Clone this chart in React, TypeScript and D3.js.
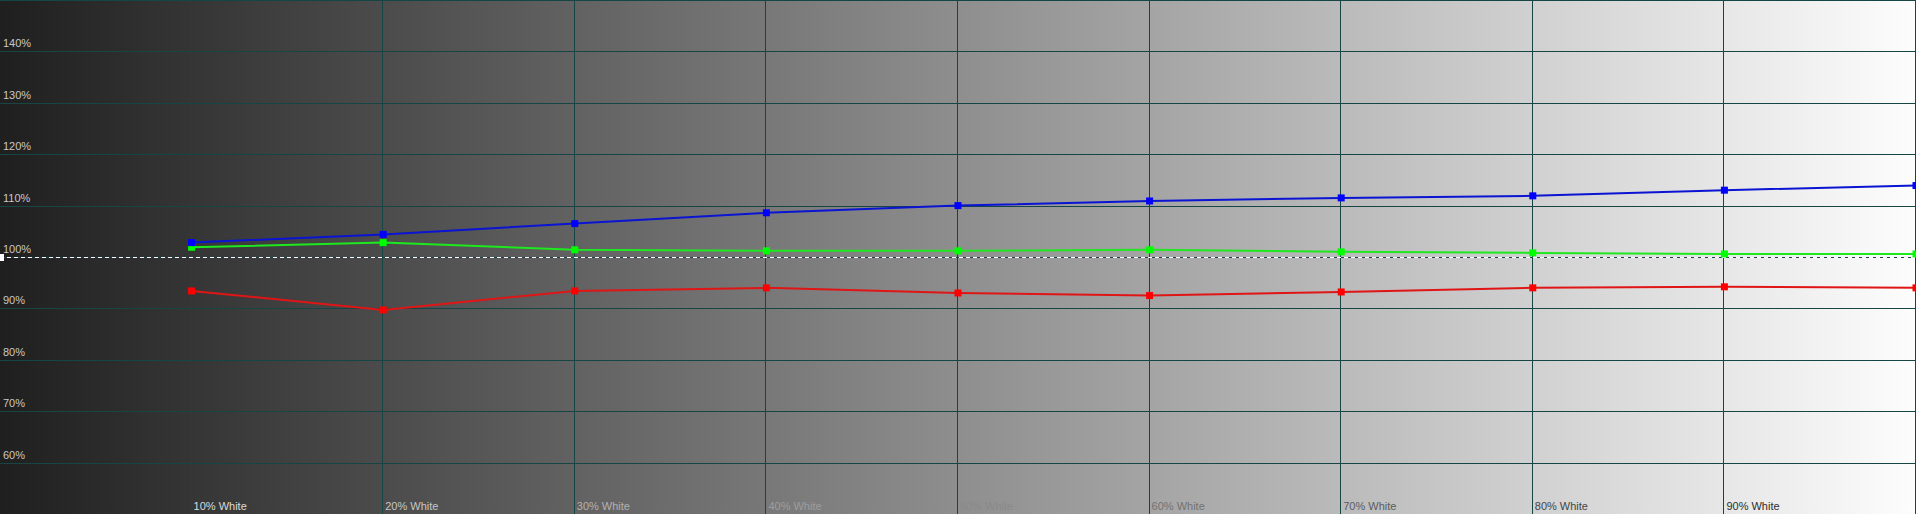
import React from "react";
import * as d3 from "d3";

const categories = ["10% White", "20% White", "30% White", "40% White", "50% White", "60% White", "70% White", "80% White", "90% White", "100% White"];
const levels = [10, 20, 30, 40, 50, 60, 70, 80, 90, 100];
const redValues = [93.4, 89.7, 93.4, 94.0, 93.0, 92.5, 93.2, 94.0, 94.2, 94.0];
const greenValues = [101.9, 102.8, 101.4, 101.2, 101.2, 101.4, 101.0, 100.8, 100.6, 100.6];
const blueValues = [102.8, 104.4, 106.5, 108.6, 110.0, 110.9, 111.5, 111.9, 113.0, 113.9];
const yTicks = [60, 70, 80, 90, 100, 110, 120, 130, 140];

const W = 1916;
const H = 514;

export default function App() {
  const x = d3.scaleLinear().domain([0, 100]).range([0, W]);
  const y = d3.scaleLinear().domain([50, 150]).range([H, 0]);
  const gridX = d3.range(10, 101, 10);
  const gridY = d3.range(50, 151, 10);
  const labelColor = d3.scaleLinear<string>().domain([10, 50, 90]).range(["#dadada", "#8a8a8a", "#2e2e2e"]);

  const series = [
    { name: "Red", values: redValues, line: "#e01515", mark: "#ff0000" },
    { name: "Green", values: greenValues, line: "#1ee81e", mark: "#00ff00" },
    { name: "Blue", values: blueValues, line: "#0a14d2", mark: "#0000ff" },
  ];
  const line = d3.line<number>().x((_, i) => x(levels[i])).y((v) => y(v));
  const ms = 7;

  return (
    <svg width={W} height={H} style={{ position: "fixed", left: 0, top: 0, display: "block" }} fontFamily="Liberation Sans, Arial, sans-serif">
      <defs>
        <linearGradient id="bg" x1="0" x2="1" y1="0" y2="0">
          <stop offset="0" stopColor="#1f1f1f" />
          <stop offset="1" stopColor="#fdfdfd" />
        </linearGradient>
      </defs>
      <rect x={0} y={0} width={W} height={H} fill="url(#bg)" />
      {gridY.map((v) => (
        <line key={"gy" + v} x1={0} x2={W} y1={Math.round(y(v)) + 0.5} y2={Math.round(y(v)) + 0.5} stroke="#174545" strokeWidth={1} />
      ))}
      {gridX.map((v) => (
        <line key={"gx" + v} x1={Math.round(x(v)) - 0.5} x2={Math.round(x(v)) - 0.5} y1={0} y2={H} stroke="#174545" strokeWidth={1} />
      ))}
      <line x1={0} x2={W} y1={Math.round(y(100)) + 0.5} y2={Math.round(y(100)) + 0.5} stroke="#ffffff" strokeWidth={1} strokeDasharray="4,3" />
      <rect x={0} y={y(100) - 3} width={4} height={7} fill="#ffffff" />
      {yTicks.map((v) => (
        <text key={"yt" + v} x={3} y={y(v) - 4} fontSize={11} fill="#c8c8c8">
          {v}%
        </text>
      ))}
      {categories.slice(0, 9).map((c, i) => (
        <text key={"xt" + c} x={x(levels[i]) + 2} y={510} fontSize={11} fill={labelColor(levels[i])}>
          {c}
        </text>
      ))}
      {series.map((s) => (
        <g key={s.name}>
          <path d={line(s.values) || ""} fill="none" stroke={s.line} strokeWidth={2} />
          {s.values.map((v, i) => (
            <rect key={i} x={x(levels[i]) - ms / 2} y={y(v) - ms / 2} width={ms} height={ms} fill={s.mark} />
          ))}
        </g>
      ))}
    </svg>
  );
}
